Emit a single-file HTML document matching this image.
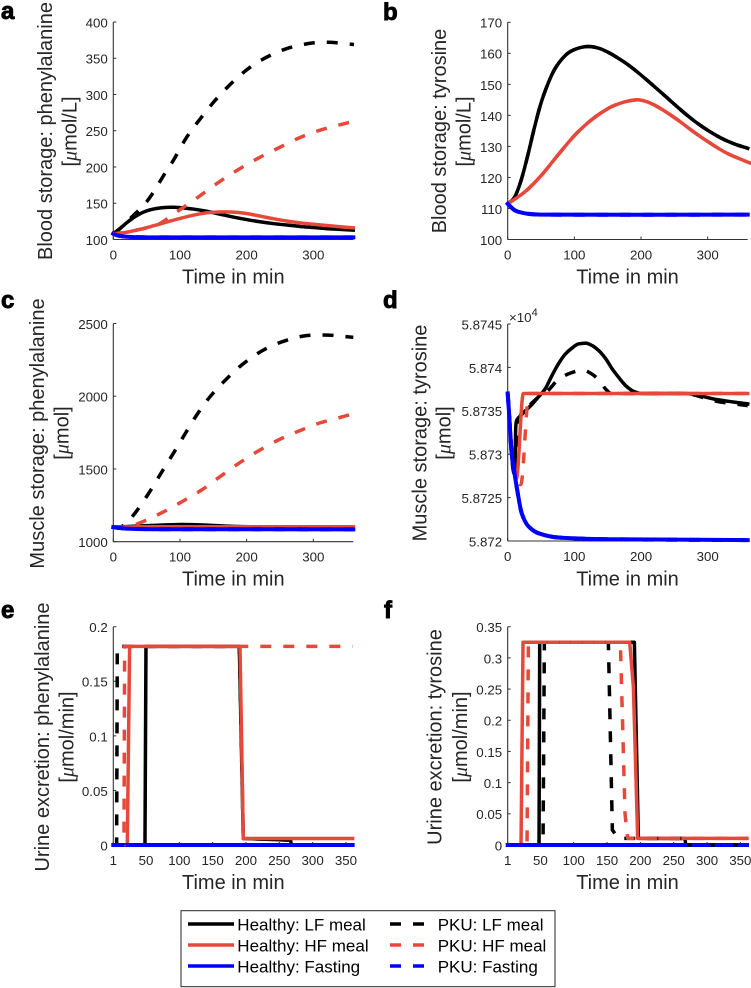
<!DOCTYPE html>
<html lang="en">
<head>
<meta charset="utf-8">
<title>Phenylalanine and tyrosine simulation panels</title>
<style>
html,body{margin:0;padding:0;background:#fff;}
svg{display:block;font-family:"Liberation Sans",Arial,sans-serif;}
.title{font-size:20px;fill:#262626;}
.letter{font-size:24px;font-weight:bold;fill:#000;stroke:#000;stroke-width:.9px;}
.tick-label{font-size:13.3px;fill:#262626;}
.legend-text{font-size:17px;fill:#000;}
.mu{font-family:"Liberation Serif",serif;font-style:italic;}
</style>
</head>
<body>
<svg id="figure" xmlns="http://www.w3.org/2000/svg" width="751" height="988" viewBox="0 0 751 988">
  <text class="letter" x="1" y="19">a</text>
  <text class="letter" x="383" y="20">b</text>
  <text class="letter" x="1" y="308">c</text>
  <text class="letter" x="383" y="308">d</text>
  <text class="letter" x="1" y="618">e</text>
  <text class="letter" x="384" y="618">f</text>

  <g id="panel-a">
    <text class="title" text-anchor="middle" transform="translate(52,131) rotate(-90)">Blood storage: phenylalanine</text>
    <text class="title" text-anchor="middle" transform="translate(76.5,131.5) rotate(-90)">[<tspan class="mu">μ</tspan>mol/L]</text>
    <text class="title" text-anchor="middle" x="233.3" y="283.3">Time in min</text>
  </g>
  <g id="panel-b">
    <text class="title" text-anchor="middle" transform="translate(446,131) rotate(-90)">Blood storage: tyrosine</text>
    <text class="title" text-anchor="middle" transform="translate(470.5,131.5) rotate(-90)">[<tspan class="mu">μ</tspan>mol/L]</text>
    <text class="title" text-anchor="middle" x="627.5" y="283.3">Time in min</text>
  </g>
  <g id="panel-c">
    <text class="title" text-anchor="middle" transform="translate(44,433.5) rotate(-90)">Muscle storage: phenylalanine</text>
    <text class="title" text-anchor="middle" transform="translate(68.5,433) rotate(-90)">[<tspan class="mu">μ</tspan>mol]</text>
    <text class="title" text-anchor="middle" x="233.3" y="585.5">Time in min</text>
  </g>
  <g id="panel-d">
    <text class="title" text-anchor="middle" transform="translate(426.5,433) rotate(-90)">Muscle storage: tyrosine</text>
    <text class="title" text-anchor="middle" transform="translate(450.5,433) rotate(-90)">[<tspan class="mu">μ</tspan>mol]</text>
    <text class="title" text-anchor="middle" x="627.5" y="585.5">Time in min</text>
    <text class="tick-label" x="509" y="322">×10<tspan dy="-6" font-size="11">4</tspan></text>
  </g>
  <g id="panel-e">
    <text class="title" text-anchor="middle" transform="translate(49,737) rotate(-90)">Urine excretion: phenylalanine</text>
    <text class="title" text-anchor="middle" transform="translate(73.5,737) rotate(-90)">[<tspan class="mu">μ</tspan>mol/min]</text>
    <text class="title" text-anchor="middle" x="233.3" y="889">Time in min</text>
  </g>
  <g id="panel-f">
    <text class="title" text-anchor="middle" transform="translate(441.5,737) rotate(-90)">Urine excretion: tyrosine</text>
    <text class="title" text-anchor="middle" transform="translate(467,737) rotate(-90)">[<tspan class="mu">μ</tspan>mol/min]</text>
    <text class="title" text-anchor="middle" x="627.5" y="889">Time in min</text>
  </g>

  <g id="legend">
    <rect x="181" y="910.7" width="374" height="76" fill="#fff" stroke="#262626" stroke-width="1"/>
    <line x1="188" x2="234" y1="924" y2="924" stroke="#000" stroke-width="3.5"/>
    <line x1="188" x2="234" y1="945" y2="945" stroke="#e6483a" stroke-width="3.5"/>
    <line x1="188" x2="234" y1="966" y2="966" stroke="#0000ff" stroke-width="3.5"/>
    <line x1="390" x2="425" y1="924" y2="924" stroke="#000" stroke-width="3.5" stroke-dasharray="11 12"/>
    <line x1="390" x2="425" y1="945" y2="945" stroke="#e6483a" stroke-width="3.5" stroke-dasharray="11 12"/>
    <line x1="390" x2="425" y1="966" y2="966" stroke="#0000ff" stroke-width="3.5" stroke-dasharray="11 12"/>
    <text class="legend-text" x="237.3" y="930.7">Healthy: LF meal</text>
    <text class="legend-text" x="237.3" y="951.7">Healthy: HF meal</text>
    <text class="legend-text" x="237.3" y="972.7">Healthy: Fasting</text>
    <text class="legend-text" x="437.7" y="930.7">PKU: LF meal</text>
    <text class="legend-text" x="437.7" y="951.7">PKU: HF meal</text>
    <text class="legend-text" x="437.7" y="972.7">PKU: Fasting</text>
  </g>
</svg>

<script>
// ---------- Tick values and labels ----------
const timeTicks = [0, 100, 200, 300];
const urineTimeTicks = [1, 50, 100, 150, 200, 250, 300, 350];
const aYTicks = [100, 150, 200, 250, 300, 350, 400];
const bYTicks = [100, 110, 120, 130, 140, 150, 160, 170];
const cYTicks = [1000, 1500, 2000, 2500];
const dYTicks = [58720, 58725, 58730, 58735, 58740, 58745];
const dYLabels = ['5.872', '5.8725', '5.873', '5.8735', '5.874', '5.8745'];
const eYTicks = [0, 0.05, 0.1, 0.15, 0.2];
const fYTicks = [0, 0.05, 0.1, 0.15, 0.2, 0.25, 0.3, 0.35];

// ---------- Panel a: blood phenylalanine ----------
const aHealthyLfTime = [0,10,20,30,40,50,60,70,80,90,100,120,140,160,180,200,220,240,260,280,300,320,340,360];
const aHealthyLf = [108,115,123,130,135.5,139.5,142,143.5,144.3,144.5,144,142,139,135,131,127.5,124.5,122,120,118,116.5,115,114,113];
const aHealthyHfTime = [0,10,20,30,40,50,60,70,80,100,120,140,160,180,200,220,240,260,280,300,320,340,360];
const aHealthyHf = [108,108.5,110,112,114,116.3,118.8,121.3,124,129,133.5,136.8,138,137.8,135.8,132.3,128.7,125.5,123,121,119.3,117.6,116];
const aFastingTime = [0,5,10,15,20,30,50,100,360];
const aFasting = [108,106,105,104.2,103.8,103.3,103,103,103];
const aPkuLfTime = [0,10,20,30,40,50,60,70,80,90,110,130,150,170,196,221,256,291,321,361];
const aPkuLf = [108,115,124,133,142,152,165,180,195,209,241,266,289,309,331,347,362,370,372,369];
const aPkuHfTime = [0,10,20,30,40,50,60,70,95,125,155,185,215,245,281,311,360];
const aPkuHf = [108,109,110,112,114,116,119,122,138,157,177,195,211,225,241,251,263];

// ---------- Panel b: blood tyrosine ----------
const bHealthyLfTime = [0,10,20,30,40,50,60,70,80,90,100,110,120,130,140,150,160,180,200,220,240,260,280,300,320,340,360];
const bHealthyLf = [111.5,113.5,119,127,136,144,150,154.7,157.8,160,161.2,161.9,162.2,162,161.4,160.4,159.2,156.4,153,149.3,145.5,141.7,138.2,135.2,132.7,130.8,129.4];
const bHealthyHfTime = [0,26,51,76,101,127,152,170,185,197,210,227,252,277,302,328,363];
const bHealthyHf = [111.5,115.4,120.8,127.4,133.7,138.8,142.4,144,144.8,145,144.3,142.5,139,135,131.3,127.9,124.7];
const bFastingTime = [0,10,20,30,40,60,360];
const bFasting = [111.5,109.5,108.7,108.3,108.1,108,108];
const bPkuLf = bHealthyLf;
const bPkuHf = bHealthyHf;

// ---------- Panel c: muscle phenylalanine ----------
const cHealthyLfTime = [0,30,60,100,130,180,220,360];
const cHealthyLf = [1100,1106,1112,1118,1116,1105,1102,1102];
const cHealthyHfTime = [0,20,60,360];
const cHealthyHf = [1100,1102,1103,1103];
const cFastingTime = [0,10,20,30,60,360];
const cFasting = [1100,1094,1090,1088,1086,1085];
const cPkuLfTime = [0,15,33,53,72,90,108,125,145,169,194,223,253,287,322,353,360];
const cPkuLf = [1100,1110,1199,1332,1474,1607,1744,1870,1996,2115,2220,2312,2374,2415,2420,2408,2405];
const cPkuHfTime = [0,20,38,71,103,133,160,188,218,248,278,309,344,360];
const cPkuHf = [1100,1103,1126,1195,1275,1357,1447,1538,1625,1700,1760,1815,1859,1880];

// ---------- Panel d: muscle tyrosine ----------
const dHealthyLfTime = [0,2,4,6,8,10,11,12,13,19,36,45,56,66,76,86,96,106,117,127,137,147,157,167,177,190,200,267,290,313,340,360];
const dHealthyLf = [58737,58735,58732.5,58730,58728.3,58727.7,58728.5,58733,58733.8,58734.4,58735.7,58736.5,58737.5,58739,58740.4,58741.5,58742.2,58742.7,58742.8,58742.5,58741.9,58741,58739.8,58738.8,58737.9,58737.2,58737,58737,58736.7,58736.3,58736,58735.8];
const dHealthyHfTime = [0,4,8,13,23.5,360];
const dHealthyHf = [58737,58732.5,58728.8,58727.2,58737,58737];
const dFastingTime = [0,2,4,6,10,14,21,31,46,76,152,360];
const dFasting = [58737,58734.8,58732.2,58730,58727.9,58726,58723.2,58721.7,58720.9,58720.4,58720.2,58720.1];
const dPkuLfTime = [0,2,4,6,8,10,12,14,15,16,20,30,45,60,76,96,112,127,137,147,155,267,290,313,340,360];
const dPkuLf = [58737,58735,58732.5,58730,58728.3,58727.7,58727.5,58727.4,58729,58733.5,58734.6,58735.4,58736.5,58737.3,58738.6,58739.4,58739.7,58739.2,58738.5,58737.5,58737,58737,58736.6,58736.1,58735.8,58735.6];
const dPkuHfTime = [0,4,8,12,19.6,32,360];
const dPkuHf = [58737,58732.5,58728.8,58727.3,58726.5,58737,58737];

// ---------- Panel e: urine phenylalanine ----------
const eHealthyLfTime = [1,48.5,50,190,196,267,268,360];
const eHealthyLf = [0,0,0.182,0.182,0.006,0.0045,0,0];
const eHealthyHfTime = [1,22,25.5,191,196,360];
const eHealthyHf = [0,0,0.182,0.182,0.006,0.006];
const eFastingTime = [1,360];
const eFasting = [0,0];
const ePkuLfTime = [1,6,7,190,196,267,268,360];
const ePkuLf = [0,0,0.182,0.182,0.006,0.0045,0,0];
const ePkuHfTime = [1,17,18,360];
const ePkuHf = [0,0,0.182,0.182];

// ---------- Panel f: urine tyrosine ----------
const fHealthyLfTime = [1,48,49,191,197,267,268,360];
const fHealthyLf = [0,0,0.325,0.325,0.0107,0.0105,0,0];
const fHealthyHfTime = [1,21,24,184,189.5,196,360];
const fHealthyHf = [0,0,0.325,0.325,0.254,0.0107,0.0107];
const fFastingTime = [1,360];
const fFasting = [0,0];
const fPkuLfTime = [1,54,56,152,158,167,267,268,360];
const fPkuLf = [0,0,0.325,0.325,0.024,0.0107,0.0107,0,0];
const fPkuHfTime = [1,30,32,170,177,181,360];
const fPkuHf = [0,0,0.325,0.325,0.05,0.0107,0.0107];

// ---------- Rendering ----------
const NS = 'http://www.w3.org/2000/svg';
const BLACK = '#000000', RED = '#e6483a', BLUE = '#0000ff';

function mk(parent, tag, attrs) {
  const el = document.createElementNS(NS, tag);
  for (const k in attrs) el.setAttribute(k, attrs[k]);
  parent.appendChild(el);
  return el;
}

// Hermite path through the points. 'spline' uses central-difference tangents for
// gently curving series; 'monotone' limits tangents so sharp corners do not overshoot.
function hermitePath(px, py, mode) {
  const n = px.length;
  if (n < 3) return 'M' + px[0] + ',' + py[0] + 'L' + px[n - 1] + ',' + py[n - 1];
  const h = [], s = [], m = [];
  for (let i = 0; i < n - 1; i++) {
    h[i] = px[i + 1] - px[i];
    s[i] = (py[i + 1] - py[i]) / h[i];
  }
  m[0] = s[0];
  m[n - 1] = s[n - 2];
  for (let i = 1; i < n - 1; i++) {
    if (mode === 'spline') {
      m[i] = (py[i + 1] - py[i - 1]) / (px[i + 1] - px[i - 1]);
    } else if (s[i - 1] * s[i] <= 0) {
      m[i] = 0;
    } else {
      const w1 = 2 * h[i] + h[i - 1], w2 = h[i] + 2 * h[i - 1];
      m[i] = (w1 + w2) / (w1 / s[i - 1] + w2 / s[i]);
    }
  }
  let d = 'M' + px[0].toFixed(2) + ',' + py[0].toFixed(2);
  for (let i = 0; i < n - 1; i++) {
    const c = h[i] / 3;
    d += 'C' + (px[i] + c).toFixed(2) + ',' + (py[i] + m[i] * c).toFixed(2) + ' ' +
      (px[i + 1] - c).toFixed(2) + ',' + (py[i + 1] - m[i + 1] * c).toFixed(2) + ' ' +
      px[i + 1].toFixed(2) + ',' + py[i + 1].toFixed(2);
  }
  return d;
}

function linearPath(px, py) {
  return px.map((x, i) => (i ? 'L' : 'M') + x.toFixed(2) + ',' + py[i].toFixed(2)).join('');
}

const LEFT_COL = { left: 113.3, right: 353.3 };
const RIGHT_COL = { left: 507.7, right: 747.7 };

const panels = [
  { id: 'a', col: LEFT_COL, top: 22, bottom: 239.5, xMin: 0, xMax: 360, xTicks: timeTicks, yTicks: aYTicks, mode: 'spline',
    series: [
      ['healthy-lf', aHealthyLfTime, aHealthyLf, BLACK, false],
      ['healthy-hf', aHealthyHfTime, aHealthyHf, RED, false],
      ['healthy-fasting', aFastingTime, aFasting, BLUE, false],
      ['pku-lf', aPkuLfTime, aPkuLf, BLACK, true],
      ['pku-hf', aPkuHfTime, aPkuHf, RED, true],
      ['pku-fasting', aFastingTime, aFasting, BLUE, true]
    ] },
  { id: 'b', col: RIGHT_COL, top: 22.3, bottom: 239.5, xMin: 0, xMax: 360, xTicks: timeTicks, yTicks: bYTicks, mode: 'spline',
    series: [
      ['pku-lf', bHealthyLfTime, bPkuLf, BLACK, true],
      ['pku-hf', bHealthyHfTime, bPkuHf, RED, true],
      ['healthy-lf', bHealthyLfTime, bHealthyLf, BLACK, false],
      ['healthy-hf', bHealthyHfTime, bHealthyHf, RED, false],
      ['healthy-fasting', bFastingTime, bFasting, BLUE, false],
      ['pku-fasting', bFastingTime, bFasting, BLUE, true]
    ] },
  { id: 'c', col: LEFT_COL, top: 323.5, bottom: 541.7, xMin: 0, xMax: 360, xTicks: timeTicks, yTicks: cYTicks, mode: 'spline',
    series: [
      ['healthy-lf', cHealthyLfTime, cHealthyLf, BLACK, false],
      ['healthy-hf', cHealthyHfTime, cHealthyHf, RED, false],
      ['healthy-fasting', cFastingTime, cFasting, BLUE, false],
      ['pku-lf', cPkuLfTime, cPkuLf, BLACK, true],
      ['pku-hf', cPkuHfTime, cPkuHf, RED, true],
      ['pku-fasting', cFastingTime, cFasting, BLUE, true]
    ] },
  { id: 'd', col: RIGHT_COL, top: 324, bottom: 541, xMin: 0, xMax: 360, xTicks: timeTicks, yTicks: dYTicks, yLabels: dYLabels, mode: 'monotone',
    series: [
      ['healthy-lf', dHealthyLfTime, dHealthyLf, BLACK, false],
      ['pku-lf', dPkuLfTime, dPkuLf, BLACK, true],
      ['healthy-hf', dHealthyHfTime, dHealthyHf, RED, false],
      ['pku-hf', dPkuHfTime, dPkuHf, RED, true],
      ['healthy-fasting', dFastingTime, dFasting, BLUE, false],
      ['pku-fasting', dFastingTime, dFasting, BLUE, true]
    ] },
  { id: 'e', col: LEFT_COL, top: 626.7, bottom: 845, xMin: 1, xMax: 361, xTicks: urineTimeTicks, yTicks: eYTicks, mode: 'linear',
    series: [
      ['healthy-lf', eHealthyLfTime, eHealthyLf, BLACK, false],
      ['pku-lf', ePkuLfTime, ePkuLf, BLACK, true],
      ['healthy-hf', eHealthyHfTime, eHealthyHf, RED, false],
      ['healthy-fasting', eFastingTime, eFasting, BLUE, false],
      ['pku-hf', ePkuHfTime, ePkuHf, RED, true],
      ['pku-fasting', eFastingTime, eFasting, BLUE, true]
    ] },
  { id: 'f', col: RIGHT_COL, top: 626.7, bottom: 845, xMin: 1, xMax: 361, xTicks: urineTimeTicks, yTicks: fYTicks, mode: 'linear',
    series: [
      ['healthy-lf', fHealthyLfTime, fHealthyLf, BLACK, false],
      ['healthy-hf', fHealthyHfTime, fHealthyHf, RED, false],
      ['healthy-fasting', fFastingTime, fFasting, BLUE, false],
      ['pku-lf', fPkuLfTime, fPkuLf, BLACK, true],
      ['pku-hf', fPkuHfTime, fPkuHf, RED, true],
      ['pku-fasting', fFastingTime, fFasting, BLUE, true]
    ] }
];

panels.forEach(function (p) {
  const root = document.getElementById('panel-' + p.id);
  const yMin = p.yTicks[0], yMax = p.yTicks[p.yTicks.length - 1];
  const xScale = v => p.col.left + (v - p.xMin) / (p.xMax - p.xMin) * (p.col.right - p.col.left);
  const yScale = v => p.bottom - (v - yMin) / (yMax - yMin) * (p.bottom - p.top);
  const axisRight = p.xMin === 1 ? xScale(360) : p.col.right;

  const yAxis = mk(root, 'line', { x1: p.col.left, x2: p.col.left, y1: p.top, y2: p.bottom, stroke: '#333333', 'stroke-width': 1.1 });
  
  
  const xAxis = mk(root, 'line', { x1: p.col.left, x2: axisRight, y1: p.bottom, y2: p.bottom, stroke: '#333333', 'stroke-width': 1.1 });
  
  

  p.xTicks.forEach(function (t) {
    const x = xScale(t);
    const mark = mk(root, 'line', { x1: x, x2: x, y1: p.bottom, y2: p.bottom - 3, stroke: '#333333', 'stroke-width': 1 });
    
    
    const label = mk(root, 'text', { x: x, y: p.bottom + 20, 'text-anchor': 'middle', class: 'tick-label' });
    
    
    label.textContent = String(t);
  });

  p.yTicks.forEach(function (t, i) {
    const y = yScale(t);
    const mark = mk(root, 'line', { x1: p.col.left, x2: p.col.left + 3, y1: y, y2: y, stroke: '#333333', 'stroke-width': 1 });
    
    
    const label = mk(root, 'text', { x: p.col.left - 5.5, y: y + 5.4, 'text-anchor': 'end', class: 'tick-label' });
    
    
    label.textContent = p.yLabels ? p.yLabels[i] : String(t);
  });

  p.series.forEach(function (s) {
    const px = s[1].map(xScale), py = s[2].map(yScale);
    const d = p.mode === 'linear' ? linearPath(px, py) : hermitePath(px, py, p.mode);
    const path = mk(root, 'path', {
      d: d, fill: 'none', stroke: s[3], 'stroke-width': s[3] === BLUE ? 4 : 3.5,
      'stroke-linejoin': 'round', 'stroke-linecap': s[4] ? 'butt' : 'square'
    });
    if (s[4]) path.setAttribute('stroke-dasharray', '11 12');
    
    
  });
});
</script>
</body>
</html>
